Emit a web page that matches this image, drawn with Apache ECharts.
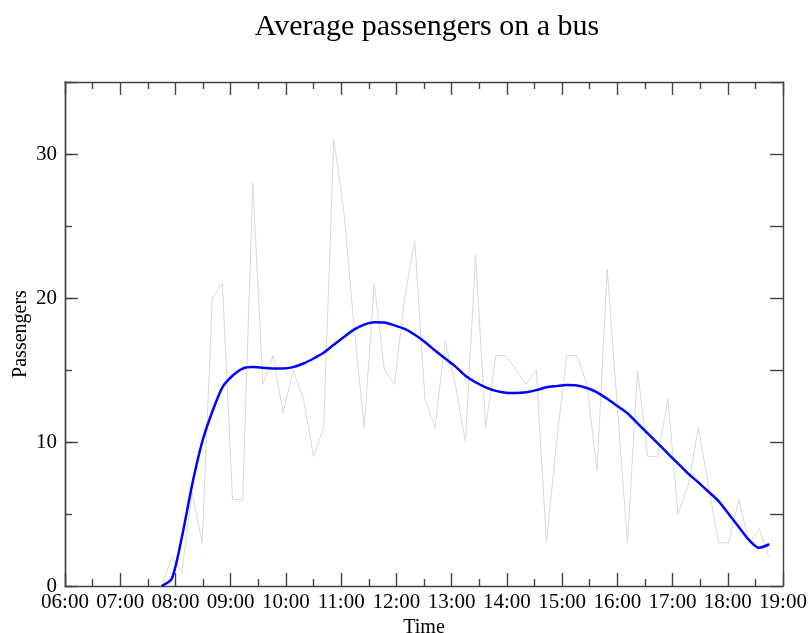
<!DOCTYPE html>
<html>
<head>
<meta charset="utf-8">
<script src="https://cdn.jsdelivr.net/npm/echarts@6/dist/echarts.min.js"></script>
<style>
html,body{margin:0;padding:0;background:#fff;}
#chart{width:810px;height:633px;}
</style>
</head>
<body>
<div id="chart"></div>
<script>
// Sample times (HH:MM)
var times = ["07:45","07:56","08:07","08:18","08:29","08:40","08:51","09:02","09:13","09:24",
  "09:35","09:46","09:57","10:08","10:19","10:30","10:41","10:52","11:03","11:14",
  "11:25","11:36","11:47","11:58","12:09","12:20","12:31","12:42","12:53","13:04",
  "13:15","13:26","13:37","13:48","13:59","14:10","14:21","14:32","14:43","14:54",
  "15:05","15:16","15:27","15:38","15:49","16:00","16:11","16:22","16:33","16:44",
  "16:55","17:06","17:17","17:28","17:39","17:50","18:01","18:12","18:23","18:34","18:45"];
// Raw passenger counts (grey line)
var passengers = [0,2,1,6.5,3,20,21,6,6,28,
  14,16,12,15,13,9,11,31,26,18,
  11,21,15,14,20,24,13,11,17,14,
  10,23,11,16,16,15,14,15,3,10,
  16,16,14,8,22,12.5,3,15,9,9,
  13,5,7,11,7,3,3,6,3,4,2];
// Smoothed average (blue line)
var smoothed = [0,0.5,3.4,7.0,10.0,12.1,13.8,14.6,15.1,15.2,
  15.15,15.1,15.1,15.2,15.45,15.8,16.2,16.75,17.3,17.8,
  18.15,18.32,18.3,18.1,17.85,17.45,16.95,16.35,15.8,15.25,
  14.6,14.15,13.8,13.55,13.42,13.4,13.45,13.6,13.8,13.88,
  13.95,13.92,13.75,13.45,13.0,12.5,12.0,11.3,10.6,9.9,
  9.2,8.5,7.8,7.2,6.55,5.9,5.0,4.1,3.2,2.65,2.9];
var xTickLabels = ["06:00","07:00","08:00","09:00","10:00","11:00","12:00","13:00","14:00","15:00","16:00","17:00","18:00","19:00"];
var yTickLabels = ["0","10","20","30"];

function toHours(s){var p=s.split(":");return +p[0]+(+p[1])/60;}
var rawData = times.map(function(t,i){return [toHours(t), passengers[i]];});
var smoothData = times.map(function(t,i){return [toHours(t), smoothed[i]];});

var serif = "'Liberation Serif','DejaVu Serif',serif";
var axisColor = '#444444';

var chart = echarts.init(document.getElementById('chart'), null, {renderer:'canvas'});
var xBase = {
  type:'value', min:6, max:19, interval:1,
  axisLine:{show:true, onZero:false, lineStyle:{color:axisColor, width:1.4}},
  axisTick:{show:true, inside:true, length:13, lineStyle:{color:axisColor, width:1.4}},
  minorTick:{show:true, splitNumber:2, length:7, lineStyle:{color:axisColor, width:1.4}},
  splitLine:{show:false}, minorSplitLine:{show:false}
};
var yBase = {
  type:'value', min:0, max:35,
  axisLine:{show:true, onZero:false, lineStyle:{color:axisColor, width:1.4}},
  splitLine:{show:false}
};
chart.setOption({
  animation:false,
  backgroundColor:'#fff',
  title:{
    text:'Average passengers on a bus', left:422, top:7, textAlign:'center',
    textStyle:{fontFamily:serif, fontSize:30, fontWeight:'normal', color:'#000'}
  },
  grid:{left:65, right:27, top:82, bottom:47, outerBoundsMode:'none'},
  xAxis:[
    Object.assign({}, xBase, {
      position:'bottom', name:'Time', nameLocation:'middle', nameGap:29,
      nameTextStyle:{fontFamily:serif, fontSize:20, color:'#000'},
      axisLabel:{show:true, margin:6, fontFamily:serif, fontSize:21, color:'#000',
        formatter:function(v){var i=Math.round(v-6);return xTickLabels[i]||'';}}
    }),
    Object.assign({}, xBase, {position:'top', axisLabel:{show:false}})
  ],
  yAxis:[
    Object.assign({}, yBase, {
      position:'left', interval:10, name:'Passengers', nameLocation:'middle', nameGap:34,
      nameMoveOverlap:false,
      nameTextStyle:{fontFamily:serif, fontSize:20, color:'#000'},
      axisTick:{show:true, inside:true, length:13, lineStyle:{color:axisColor, width:1.4}},
      axisLabel:{show:true, margin:8, fontFamily:serif, fontSize:21, color:'#000',
        formatter:function(v){var i=Math.round(v/10);return (v%10===0 && yTickLabels[i]!==undefined)?yTickLabels[i]:'';}}
    }),
    Object.assign({}, yBase, {
      position:'left', interval:5,
      axisTick:{show:true, inside:true, length:7, lineStyle:{color:axisColor, width:1.4}},
      axisLabel:{show:false}
    }),
    Object.assign({}, yBase, {
      position:'right', interval:5,
      axisTick:{show:true, inside:true, length:13, lineStyle:{color:axisColor, width:1.4}},
      axisLabel:{show:false}
    })
  ],
  series:[
    {type:'line', xAxisIndex:0, yAxisIndex:0, data:rawData, showSymbol:false, symbol:'none',
      lineStyle:{color:'#d9d9d9', width:1}, z:2},
    {type:'line', xAxisIndex:0, yAxisIndex:0, data:smoothData, showSymbol:false, symbol:'none',
      smooth:0.25, lineStyle:{color:'#0000ff', width:2.5}, z:3}
  ]
});
</script>
</body>
</html>
